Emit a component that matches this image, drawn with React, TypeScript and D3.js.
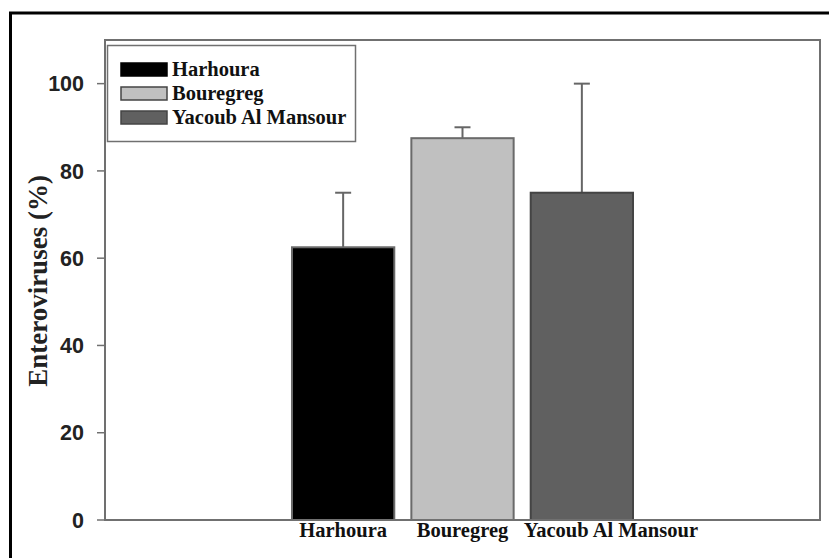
import React from "react";
import * as d3 from "d3";

const categories = ["Harhoura", "Bouregreg", "Yacoub Al Mansour"];
const values = [62.5, 87.5, 75];
const errors = [12.5, 2.5, 25];
const colors = ["#000000", "#c0c0c0", "#606060"];
const yTicks = [0, 20, 40, 60, 80, 100];

const W = 829;
const H = 558;
const plot = { left: 105, right: 820, top: 40, bottom: 520 };
const serif = "'Liberation Serif', 'Times New Roman', serif";
const sans = "'Liberation Sans', Arial, sans-serif";
const axisColor = "#707070";

export default function App() {
  const y = d3.scaleLinear().domain([0, 110]).range([plot.bottom, plot.top]);
  const x = d3.scaleBand<string>().domain(categories).range([292, 633]).paddingInner(0.143).paddingOuter(0);
  const bw = x.bandwidth();
  const labelDx = [0, 0, 29];

  return (
    <svg width={W} height={H} style={{ position: "fixed", left: 0, top: 0, background: "#fff" }}>
      <rect x={0} y={0} width={W} height={H} fill="#fff" />
      {/* outer frame */}
      <path d={`M10.5,${H} V13 H${W}`} fill="none" stroke="#000" strokeWidth={3} />

      {/* bars */}
      {categories.map((c, i) => {
        const x0 = x(c)!;
        const cx = x0 + bw / 2;
        const top = y(values[i]);
        const eTop = y(values[i] + errors[i]);
        return (
          <g key={c}>
            <line x1={cx} x2={cx} y1={top} y2={eTop} stroke="#666" strokeWidth={2} />
            <line x1={cx - 8} x2={cx + 8} y1={eTop} y2={eTop} stroke="#666" strokeWidth={2} />
            <rect x={x0} y={top} width={bw} height={y(0) - top} fill={colors[i]} stroke={i === 2 ? "#444" : "#6a6a6a"} strokeWidth={2} />
          </g>
        );
      })}

      {/* plot frame */}
      <rect x={plot.left} y={plot.top} width={plot.right - plot.left} height={plot.bottom - plot.top} fill="none" stroke={axisColor} strokeWidth={2} />

      {/* y ticks */}
      {yTicks.map((t) => (
        <g key={t}>
          <line x1={plot.left - 8} x2={plot.left} y1={y(t)} y2={y(t)} stroke={axisColor} strokeWidth={1.5} />
          <text x={plot.left - 21} y={y(t)} dy="0.36em" textAnchor="end" fontFamily={sans} fontWeight="bold" fontSize={21.5} fill="#222">
            {t}
          </text>
        </g>
      ))}

      {/* y title */}
      <text transform={`translate(47,${(plot.top + plot.bottom) / 2 + 1}) rotate(-90)`} textAnchor="middle" fontFamily={serif} fontWeight="bold" fontSize={27} fill="#222">
        Enteroviruses (%)
      </text>

      {/* x labels */}
      {categories.map((c, i) => (
        <text key={c} x={x(c)! + bw / 2 + labelDx[i]} y={537} textAnchor="middle" fontFamily={serif} fontWeight="bold" fontSize={20.5} fill="#111">
          {c}
        </text>
      ))}

      {/* legend */}
      <rect x={107.5} y={45.5} width={248} height={96} fill="#fff" stroke={axisColor} strokeWidth={1.5} />
      {categories.map((c, i) => (
        <g key={c} transform={`translate(121,${63 + i * 24})`}>
          <rect x={0} y={0} width={46} height={13} fill={colors[i]} stroke={i === 0 ? "#000" : "#444"} strokeWidth={1.5} />
          <text x={51} y={12.5} fontFamily={serif} fontWeight="bold" fontSize={20.5} fill="#111">
            {c}
          </text>
        </g>
      ))}
    </svg>
  );
}
